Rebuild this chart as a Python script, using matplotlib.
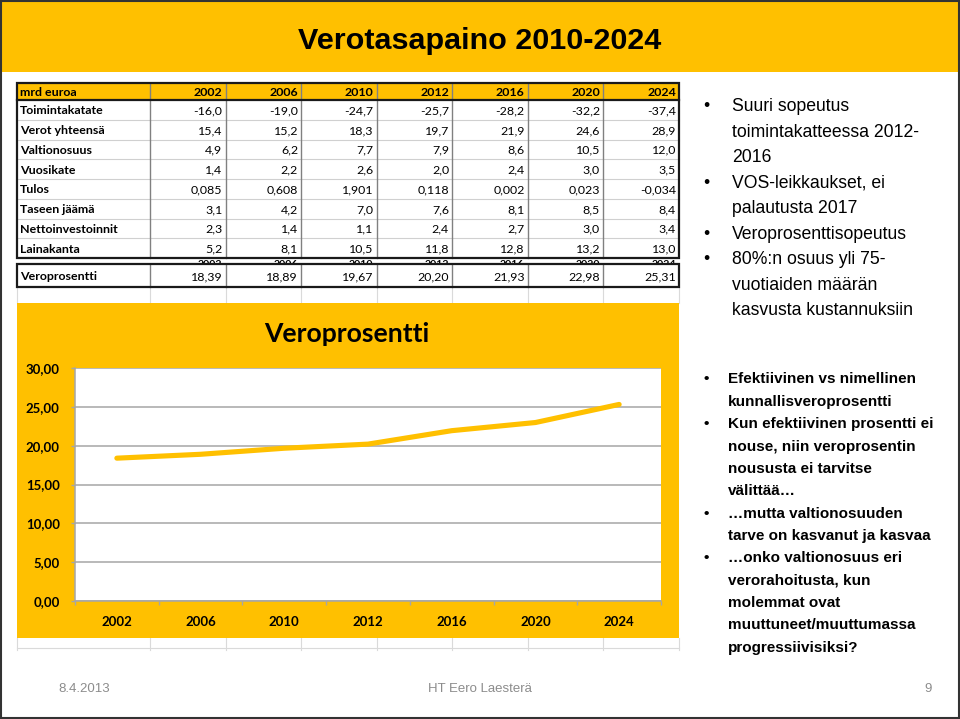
import numpy as np
import matplotlib
matplotlib.use("Agg")
import matplotlib.pyplot as plt
from matplotlib.patches import Rectangle

# ---------------- data ----------------
years = [2002, 2006, 2010, 2012, 2016, 2020, 2024]
row_labels = ["Toimintakatate", "Verot yhteensä", "Valtionosuus", "Vuosikate",
              "Tulos", "Taseen jäämä", "Nettoinvestoinnit", "Lainakanta"]
toimintakatate = [-16.0, -19.0, -24.7, -25.7, -28.2, -32.2, -37.4]
verot_yhteensa = [15.4, 15.2, 18.3, 19.7, 21.9, 24.6, 28.9]
valtionosuus = [4.9, 6.2, 7.7, 7.9, 8.6, 10.5, 12.0]
vuosikate = [1.4, 2.2, 2.6, 2.0, 2.4, 3.0, 3.5]
tulos = [0.085, 0.608, 1.901, 0.118, 0.002, 0.023, -0.034]
taseen_jaama = [3.1, 4.2, 7.0, 7.6, 8.1, 8.5, 8.4]
nettoinvestoinnit = [2.3, 1.4, 1.1, 2.4, 2.7, 3.0, 3.4]
lainakanta = [5.2, 8.1, 10.5, 11.8, 12.8, 13.2, 13.0]
veroprosentti = [18.39, 18.89, 19.67, 20.20, 21.93, 22.98, 25.31]
yticks_vals = [0, 5, 10, 15, 20, 25, 30]

title = "Verotasapaino 2010-2024"
chart_title = "Veroprosentti"
top_bullets = [
    ["Suuri sopeutus", "toimintakatteessa 2012-", "2016"],
    ["VOS-leikkaukset, ei", "palautusta 2017"],
    ["Veroprosenttisopeutus"],
    ["80%:n osuus yli 75-", "vuotiaiden määrän", "kasvusta kustannuksiin"],
]
bottom_bullets = [
    ["Efektiivinen vs nimellinen", "kunnallisveroprosentti"],
    ["Kun efektiivinen prosentti ei", "nouse, niin veroprosentin",
     "noususta ei tarvitse", "välittää…"],
    ["…mutta valtionosuuden", "tarve on kasvanut ja kasvaa"],
    ["…onko valtionosuus eri", "verorahoitusta, kun", "molemmat ovat",
     "muuttuneet/muuttumassa", "progressiivisiksi?"],
]
footer_date = "8.4.2013"
footer_author = "HT Eero Laesterä"
footer_page = "9"

table_rows = [toimintakatate, verot_yhteensa, valtionosuus, vuosikate,
              tulos, taseen_jaama, nettoinvestoinnit, lainakanta]
row_decimals = [1, 1, 1, 1, 3, 1, 1, 1]

# ---------------- styling ----------------
YEL = "#FFC000"
TFONT = "Lato"
SFONT = "Liberation Sans"


def fmt(v, d):
    return f"{v:.{d}f}".replace(".", ",")


def px2pt(px):
    return px * 0.72


fig = plt.figure(figsize=(9.6, 7.19), dpi=100)
fig.patch.set_facecolor("white")
bg = fig.add_axes([0, 0, 1, 1])
bg.set_xlim(0, 960)
bg.set_ylim(719, 0)
bg.axis("off")


def ctext(x, yc, s, em_px, ha="left", cap=0.72, **kw):
    """place text so its cap-height centre is at yc (pixel coords)"""
    return bg.text(x, yc + cap * em_px / 2, s, fontsize=px2pt(em_px), ha=ha,
                   va="baseline", **kw)


# header band
bg.add_patch(Rectangle((0, 0), 960, 72, fc=YEL, ec="none", zorder=1))
ctext(480, 38, title, 30.5, ha="center", cap=0.716, family=SFONT,
      fontweight="bold", color="black", zorder=5)

# ---------------- table ----------------
col_edges = [17, 150, 225.5, 301, 376.5, 452, 527.5, 603, 679]
hdr_top, hdr_bot = 83, 100
row_h = (258 - 100) / 8
tbl_bot = 258
vp_top, vp_bot = 264, 287
tem = 12.4

bg.add_patch(Rectangle((17, hdr_top), 662, hdr_bot - hdr_top, fc=YEL, ec="none", zorder=2))
bg.add_patch(Rectangle((17, hdr_bot), 662, tbl_bot - hdr_bot, fc="white", ec="none", zorder=2))
bg.add_patch(Rectangle((17, vp_top), 662, vp_bot - vp_top, fc="white", ec="none", zorder=2))

# faint spreadsheet grid outside table
for x in col_edges:
    bg.plot([x, x], [287, 303], color="#DADADA", lw=0.8, zorder=1)
    bg.plot([x, x], [638, 650], color="#DADADA", lw=0.8, zorder=1)
bg.plot([17, 679], [648, 648], color="#DADADA", lw=0.8, zorder=1)

# partly hidden header row underneath (only the tops of the digits show)
gap = Rectangle((17, tbl_bot), 662, vp_top - tbl_bot, transform=bg.transData)
for i, yr in enumerate(years):
    t = ctext(col_edges[i + 2] - 3, 263.5, str(yr), 10.5, ha="right",
              family=TFONT, fontweight="bold", color="black", zorder=1.5)
    t.set_clip_path(gap)

# inner lines
for r in range(1, 8):
    y = hdr_bot + r * row_h
    bg.plot([17, 679], [y, y], color="#D0D0D0", lw=0.8, zorder=3)
for x in col_edges[1:-1]:
    bg.plot([x, x], [hdr_top, tbl_bot], color="#808080", lw=1.0, zorder=3)
    bg.plot([x, x], [vp_top, vp_bot], color="#808080", lw=1.0, zorder=3)
# thick outer borders
bg.add_patch(Rectangle((17, hdr_top), 662, tbl_bot - hdr_top, fc="none", ec="#1a1a1a", lw=1.6, zorder=4))
bg.plot([17, 679], [hdr_bot, hdr_bot], color="#1a1a1a", lw=1.6, zorder=4)
bg.add_patch(Rectangle((17, vp_top), 662, vp_bot - vp_top, fc="none", ec="#1a1a1a", lw=1.6, zorder=4))

# header text
hc = (hdr_top + hdr_bot) / 2
ctext(20, hc, "mrd euroa", tem, family=TFONT, fontweight="bold", zorder=5)
for i, yr in enumerate(years):
    ctext(col_edges[i + 2] - 3, hc, str(yr), tem, ha="right", family=TFONT,
          fontweight="bold", zorder=5)
# body rows
for r, (lab, vals, d) in enumerate(zip(row_labels, table_rows, row_decimals)):
    yc = hdr_bot + (r + 0.5) * row_h
    ctext(20, yc, lab, tem, family=TFONT, fontweight="bold", zorder=5)
    for i, v in enumerate(vals):
        ctext(col_edges[i + 2] - 3, yc, fmt(v, d), tem, ha="right",
              family=TFONT, zorder=5)
# Veroprosentti row
yc = (vp_top + vp_bot) / 2 + 0.5
ctext(20, yc, chart_title, tem, family=TFONT, fontweight="bold", zorder=5)
for i, v in enumerate(veroprosentti):
    ctext(col_edges[i + 2] - 3, yc, fmt(v, 2), tem, ha="right", family=TFONT, zorder=5)

# ---------------- chart ----------------
bg.add_patch(Rectangle((17, 303), 662, 335, fc=YEL, ec="none", zorder=2))
ctext(347, 332, chart_title, 26.5, ha="center", family=TFONT,
      fontweight="bold", zorder=5)

pl, pr, pt_, pb = 75, 661, 368, 601
ax = fig.add_axes([pl / 960, (719 - pb) / 719, (pr - pl) / 960, (pb - pt_) / 719])
ax.set_facecolor("white")
xpos = np.arange(len(years)) + 0.5
ax.plot(xpos, veroprosentti, color=YEL, lw=3.7, solid_capstyle="round", zorder=3)
ax.set_xlim(0, len(years))
ax.set_ylim(0, 30)
gcol = "#A6A6A6"
ax.set_yticks(yticks_vals)
ax.set_yticklabels([fmt(v, 2) for v in yticks_vals], family=TFONT,
                   fontweight="bold", fontsize=9.5)
ax.set_xticks(xpos)
ax.set_xticklabels([str(y) for y in years], family=TFONT, fontweight="bold",
                   fontsize=9.5)
ax.set_xticks(np.arange(len(years) + 1), minor=True)
ax.tick_params(axis="x", which="major", length=0, pad=11)
ax.tick_params(axis="x", which="minor", length=3, color=gcol, width=1)
ax.tick_params(axis="y", length=3, color=gcol, width=1, pad=8)
ax.yaxis.grid(True, color=gcol, lw=1.1)
ax.set_axisbelow(True)
for s in ["top", "right"]:
    ax.spines[s].set_visible(False)
for s in ["left", "bottom"]:
    ax.spines[s].set_color(gcol)
    ax.spines[s].set_linewidth(1.1)

# ---------------- right-hand bullets ----------------
def bullets(groups, x_b, x_t, y0, step, em, weight):
    y = y0
    for g in groups:
        ctext(x_b, y, "•", em, ha="left", cap=0.716, family=SFONT,
              fontweight=weight, zorder=5)
        for line in g:
            ctext(x_t, y, line, em, ha="left", cap=0.716, family=SFONT,
                  fontweight=weight, zorder=5)
            y += step


bullets(top_bullets, 703, 732, 105, 25.5, 17.6, "normal")
bullets(bottom_bullets, 703, 728, 378, 22.35, 15.3, "bold")

# ---------------- footer ----------------
fc = "#8C8C8C"
ctext(58, 687, footer_date, 13.2, family=SFONT, color=fc, zorder=5)
ctext(480, 687, footer_author, 13.2, ha="center", family=SFONT, color=fc, zorder=5)
ctext(932, 687, footer_page, 13.2, ha="right", family=SFONT, color=fc, zorder=5)

# slide border
bg.add_patch(Rectangle((0.8, 0.8), 958.4, 717.4, fc="none", ec="#333333", lw=1.5, zorder=6))

fig.savefig("out.png", dpi=100)
